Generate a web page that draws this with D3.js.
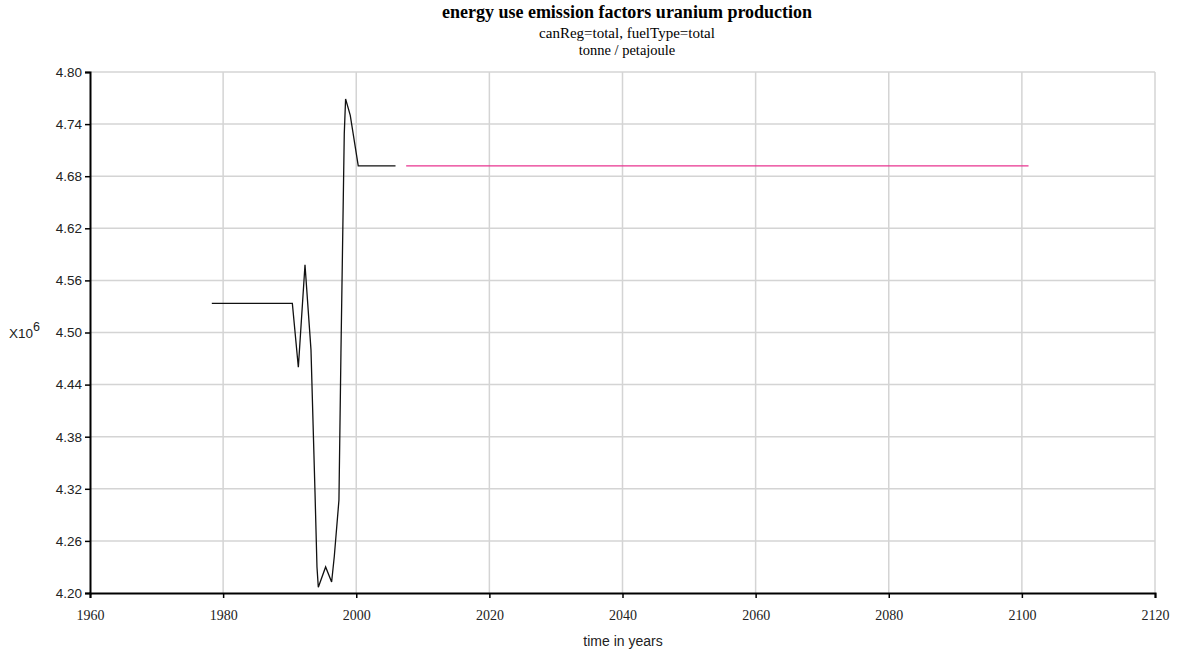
<!DOCTYPE html>
<html lang="en">
<meta charset="UTF-8">
<style>
    body { margin: 0; background: white; }
    .grid line { stroke: #d4d4d4; stroke-width: 1.5px; }
    .axis path, .axis line { stroke: black; }
    .axis path { stroke-width: 2px; }
    .ylab text { font-family: "Liberation Sans", Arial, sans-serif; font-size: 13.5px; fill: #222; }
    .xlab text { font-family: "Liberation Serif", "Times New Roman", serif; font-size: 14px; fill: #222; }
</style>
<body>
<svg id="chart" width="1177" height="652"></svg>
<script src="https://d3js.org/d3.v7.min.js"></script>
<script>
// historical series (black)
const histYears  = [1978.3, 1990.4, 1991.3, 1992.3, 1993.2, 1993.8, 1994.1, 1994.3, 1995.4, 1996.3, 1996.7, 1997.4, 1997.7, 1998.2, 1998.4, 1999.1, 2000.3, 2005.9];
const histValues = [4.5336, 4.5336, 4.460, 4.578, 4.480, 4.317, 4.230, 4.2066, 4.230, 4.2127, 4.242, 4.307, 4.476, 4.729, 4.769, 4.750, 4.692, 4.692];
// projection series (pink)
const projYears  = [2007.5, 2101];
const projValues = [4.692, 4.692];

const xTicks = [1960, 1980, 2000, 2020, 2040, 2060, 2080, 2100, 2120];
const yTicks = [4.20, 4.26, 4.32, 4.38, 4.44, 4.50, 4.56, 4.62, 4.68, 4.74, 4.80];

const svg = d3.select('#chart');
const margin = {top: 72, right: 22, bottom: 59, left: 90};
const width = 1177, height = 652;

const x = d3.scaleLinear().domain([1960, 2120]).range([margin.left, width - margin.right]);
const y = d3.scaleLinear().domain([4.20, 4.80]).range([height - margin.bottom, margin.top]);

// grid
const grid = svg.append('g').attr('class', 'grid');
grid.selectAll('.vx').data(xTicks.slice(1)).enter().append('line')
    .attr('x1', d => x(d)).attr('x2', d => x(d))
    .attr('y1', y(4.80)).attr('y2', y(4.20));
grid.selectAll('.hy').data(yTicks.slice(1)).enter().append('line')
    .attr('x1', x(1960)).attr('x2', x(2120))
    .attr('y1', d => y(d)).attr('y2', d => y(d));

// lines
const line = d3.line().x(d => x(d[0])).y(d => y(d[1]));
svg.append('path')
    .datum(histYears.map((t, i) => [t, histValues[i]]))
    .attr('d', line)
    .attr('fill', 'none').attr('stroke', '#111').attr('stroke-width', 1.3);
svg.append('path')
    .datum(projYears.map((t, i) => [t, projValues[i]]))
    .attr('d', line)
    .attr('fill', 'none').attr('stroke', '#e8338f').attr('stroke-width', 1.3);

// axes
svg.append('g').attr('class', 'axis ylab')
    .attr('transform', `translate(${margin.left},0)`)
    .call(d3.axisLeft(y).tickValues(yTicks).tickFormat(d3.format('.2f')).tickSize(5).tickPadding(3));
svg.append('g').attr('class', 'axis xlab')
    .attr('transform', `translate(0,${height - margin.bottom})`)
    .call(d3.axisBottom(x).tickValues(xTicks).tickFormat(d3.format('d')).tickSize(5).tickPadding(12));
svg.selectAll('.axis .tick line').attr('stroke-width', 1.5);

// titles
const cx = 627;
svg.append('text')
    .attr('x', cx).attr('y', 18)
    .attr('text-anchor', 'middle')
    .attr('font-family', '"Liberation Serif", "Times New Roman", serif')
    .attr('font-weight', 'bold').attr('font-size', '18px')
    .text('energy use emission factors uranium production');
svg.append('text')
    .attr('x', cx).attr('y', 38)
    .attr('text-anchor', 'middle')
    .attr('font-family', '"Liberation Serif", "Times New Roman", serif')
    .attr('font-size', '15px')
    .text('canReg=total, fuelType=total');
svg.append('text')
    .attr('x', cx).attr('y', 55)
    .attr('text-anchor', 'middle')
    .attr('font-family', '"Liberation Serif", "Times New Roman", serif')
    .attr('font-size', '14.5px')
    .text('tonne / petajoule');

svg.append('text')
    .attr('x', 623).attr('y', 646)
    .attr('text-anchor', 'middle')
    .attr('font-family', '"Liberation Sans", Arial, sans-serif')
    .attr('font-size', '14px').attr('fill', '#222')
    .text('time in years');

const mult = svg.append('text')
    .attr('x', 9).attr('y', 338)
    .attr('font-family', '"Liberation Sans", Arial, sans-serif')
    .attr('font-size', '13.5px').attr('fill', '#222');
mult.append('tspan').text('X10');
mult.append('tspan').attr('dy', -7).attr('font-size', '12.5px').text('6');
</script>
</body>
</html>
